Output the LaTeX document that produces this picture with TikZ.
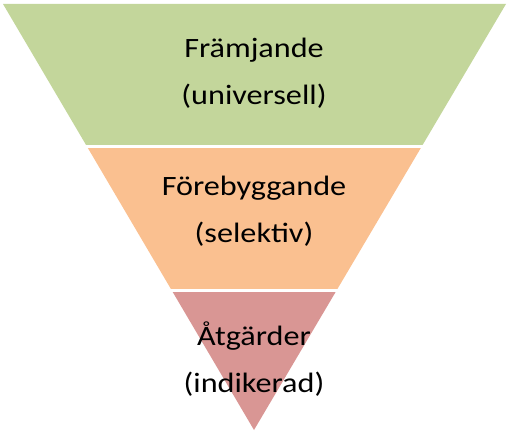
\documentclass[tikz,border=0pt]{standalone}
\usepackage{fontspec}
\setmainfont{Carlito}[FakeStretch=1.15]
\definecolor{bandgreen}{HTML}{C3D69B}
\definecolor{bandorange}{HTML}{FAC090}
\definecolor{bandred}{HTML}{D99694}
\tikzset{
  lvl/.style={align=center, inner sep=0pt, anchor=base, font=\fontsize{28}{47}\selectfont}
}
\begin{document}
\begin{tikzpicture}[x=1pt,y=1pt]
\useasboundingbox (0,0) rectangle (509,440);
% the three bands, cut to the triangle
\begin{scope}
\clip (3,436) -- (506,436) -- (254,10) -- cycle;
\fill[bandgreen] (0,295) rectangle (509,437);
\fill[bandorange] (0,151) rectangle (509,292);
\fill[bandred] (0,0) rectangle (509,148);
\end{scope}
\node[lvl] (fram) at (254,335) {Främjande\\(universell)};
\node[lvl] (fore) at (254,198) {Förebyggande\\(selektiv)};
\node[lvl] (atg) at (254,48) {Åtgärder\\(indikerad)};
\end{tikzpicture}
\end{document}
